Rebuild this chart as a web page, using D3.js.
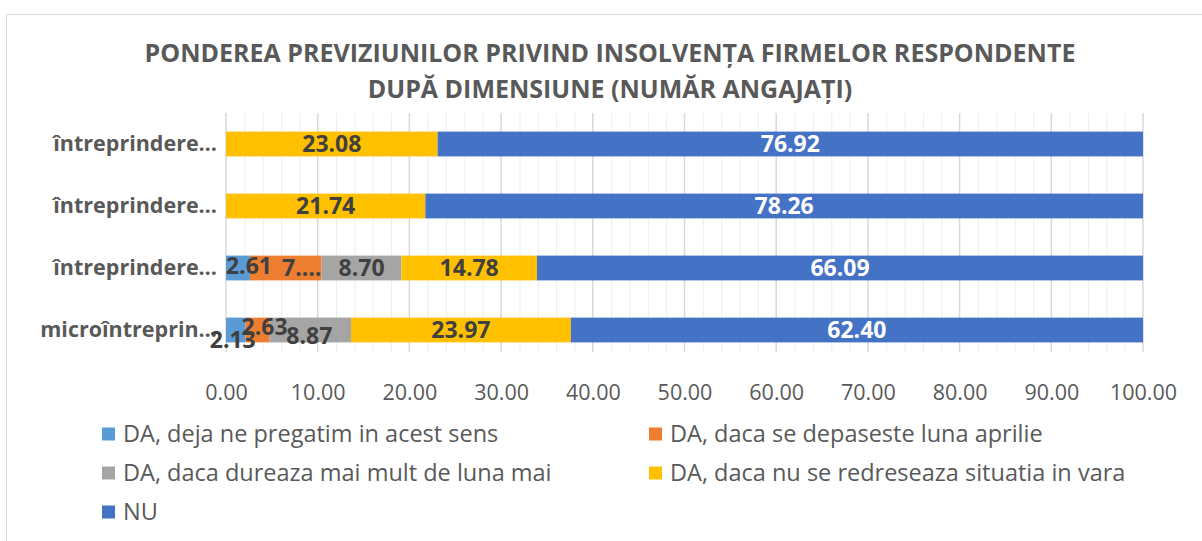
<!DOCTYPE html>
<html>
<head>
<meta charset="utf-8">
<script src="https://cdn.jsdelivr.net/npm/d3@7"></script>
<style>
  html, body { margin: 0; padding: 0; background: #fff; }
  svg { display: block; font-family: "Open Sans", sans-serif; }
</style>
</head>
<body>
<svg id="chart" width="1202" height="541"></svg>
<script>
// ---- data ----
const titleLines = ["PONDEREA PREVIZIUNILOR PRIVIND INSOLVENȚA FIRMELOR RESPONDENTE", "DUPĂ DIMENSIUNE (NUMĂR ANGAJAȚI)"];
const categories = ["întreprindere…", "întreprindere…", "întreprindere…", "microîntreprin…"];
const seriesNames = [
  "DA, deja ne pregatim in acest sens",
  "DA, daca se depaseste luna aprilie",
  "DA, daca dureaza mai mult de luna mai",
  "DA, daca nu se redreseaza situatia in vara",
  "NU"
];
const s1 = [0, 0, 2.61, 2.13];
const s2 = [0, 0, 7.82, 2.63];
const s3 = [0, 0, 8.70, 8.87];
const s4 = [23.08, 21.74, 14.78, 23.97];
const s5 = [76.92, 78.26, 66.09, 62.40];
const xTicks = [0, 10, 20, 30, 40, 50, 60, 70, 80, 90, 100];

// ---- style ----
const colors = ["#5B9BD5", "#ED7D31", "#A5A5A5", "#FFC000", "#4472C4"];
const labelColors = ["#404040", "#404040", "#404040", "#404040", "#FFFFFF"];
// label nudges (Excel collision placement) keyed "row|series"
const nudge = { "3|0": [-3, 10], "3|1": [7, -3], "3|2": [-1, 6], "2|0": [11, -2], "2|1": [16, 0] };
const textOverride = { "2|1": "7.…" };

const svg = d3.select("#chart");
const seriesData = [s1, s2, s3, s4, s5];

// chart border
svg.append("path").attr("d", "M6.5,541 L6.5,14.5 L1202,14.5")
  .attr("fill", "none").attr("stroke", "#D9D9D9").attr("stroke-width", 1);

// title
svg.append("text").attr("x", 610).attr("y", 62).attr("text-anchor", "middle")
  .attr("font-size", 25).attr("font-weight", 700).attr("fill", "#595959")
  .selectAll("tspan").data(titleLines).join("tspan")
  .attr("x", 610).attr("dy", (d, i) => i === 0 ? 0 : 36).text(d => d);

const x = d3.scaleLinear().domain([0, 100]).range([226, 1143]);
const y = d3.scaleBand().domain(d3.range(categories.length)).range([113, 361])
  .paddingInner(0.6).paddingOuter(0.3);
const gridTop = 113, gridBottom = 352;

// minor grid
const minor = d3.range(0, 101, 2).filter(v => v % 10 !== 0);
svg.append("g").selectAll("line").data(minor).join("line")
  .attr("x1", d => x(d) + 0.5).attr("x2", d => x(d) + 0.5)
  .attr("y1", gridTop).attr("y2", gridBottom)
  .attr("stroke", "#EDEDED").attr("stroke-width", 1);
// major grid
svg.append("g").selectAll("line").data(xTicks).join("line")
  .attr("x1", d => x(d)).attr("x2", d => x(d))
  .attr("y1", gridTop).attr("y2", gridBottom)
  .attr("stroke", "#D9D9D9").attr("stroke-width", 1.5);

// x axis labels
const xAxis = d3.axisBottom(x).tickValues(xTicks).tickFormat(d3.format(".2f")).tickSize(0).tickPadding(0);
const gx = svg.append("g").attr("transform", `translate(0,${gridBottom})`).call(xAxis);
gx.select(".domain").remove();
gx.selectAll("text").attr("font-size", 21.5).attr("fill", "#595959")
  .attr("font-family", "Open Sans, sans-serif").attr("dy", null).attr("y", 48);

// y axis labels
const yAxis = d3.axisLeft(y).tickFormat(i => categories[i]).tickSize(0).tickPadding(9);
const gy = svg.append("g").attr("transform", `translate(226,0)`).call(yAxis);
gy.select(".domain").remove();
gy.selectAll("text").attr("font-size", 21.5).attr("font-weight", 700).attr("fill", "#595959")
  .attr("font-family", "Open Sans, sans-serif");

// stacked bars
const rows = categories.map((c, i) => {
  const o = { idx: i };
  seriesData.forEach((s, k) => o["s" + k] = s[i]);
  return o;
});
const keys = seriesData.map((s, k) => "s" + k);
const stack = d3.stack().keys(keys)(rows);

const layers = svg.append("g").selectAll("g").data(stack).join("g")
  .attr("fill", (d, k) => colors[k]);
layers.selectAll("rect").data(d => d).join("rect")
  .attr("x", d => x(d[0])).attr("width", d => x(d[1]) - x(d[0]))
  .attr("y", d => y(d.data.idx)).attr("height", y.bandwidth());

// labels
const fmt = d3.format(".2f");
stack.forEach((layer, k) => {
  layer.forEach(d => {
    const v = d[1] - d[0];
    if (v <= 0) return;
    const key = d.data.idx + "|" + k;
    const n = nudge[key] || [0, 0];
    svg.append("text")
      .attr("x", (x(d[0]) + x(d[1])) / 2 + n[0])
      .attr("y", y(d.data.idx) + y.bandwidth() / 2 + n[1])
      .attr("dy", "0.35em").attr("text-anchor", "middle")
      .attr("font-size", 23).attr("font-weight", 700)
      .attr("fill", labelColors[k])
      .text(textOverride[key] || fmt(seriesData[k][d.data.idx]));
  });
});

// legend
const legendPos = [[102, 434], [649, 434], [102, 473], [649, 473], [102, 512]];
const lg = svg.append("g").selectAll("g").data(seriesNames).join("g")
  .attr("transform", (d, i) => `translate(${legendPos[i][0]},${legendPos[i][1]})`);
lg.append("rect").attr("x", 0).attr("y", -6.5).attr("width", 13).attr("height", 13)
  .attr("fill", (d, i) => colors[i]);
lg.append("text").attr("x", 21).attr("dy", "0.35em").attr("font-size", 23.5)
  .attr("fill", "#595959").text(d => d);
</script>
</body>
</html>
